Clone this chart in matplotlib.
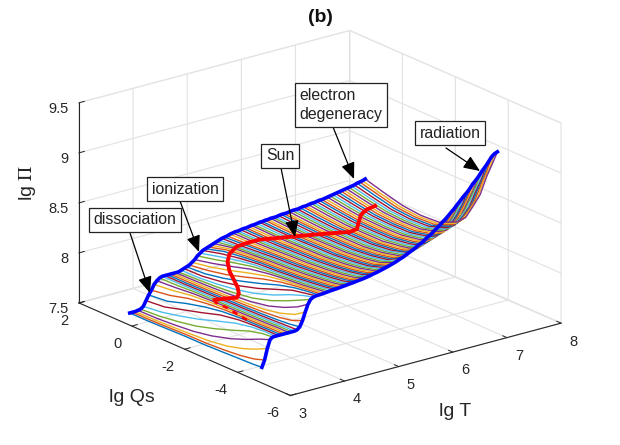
import matplotlib
matplotlib.use('Agg')
import numpy as np
import matplotlib.pyplot as plt

plt.rcParams['font.family'] = ['Liberation Sans', 'DejaVu Sans']
plt.rcParams['mathtext.fontset'] = 'stix'
plt.rcParams['axes.unicode_minus'] = False

# lg Qs positions of the samples along every constant-T line
qs_knots = [1.0, 0.3, -0.4, -1.1, -1.8, -2.5, -3.1, -3.6, -4.0]

lgT = [3.45, 3.50, 3.55, 3.60, 3.65, 3.70, 3.75, 3.80, 3.85, 3.90, 3.95, 4.00, 4.05, 4.10, 4.15, 4.20,
       4.25, 4.30, 4.35, 4.40, 4.45, 4.50, 4.55, 4.60, 4.65, 4.70, 4.75, 4.80, 4.85, 4.90, 4.95, 5.00,
       5.05, 5.10, 5.15, 5.20, 5.25, 5.30, 5.35, 5.40, 5.45, 5.50, 5.55, 5.60, 5.65, 5.70, 5.75, 5.80,
       5.85, 5.90, 5.95, 6.00, 6.05, 6.10, 6.15, 6.20, 6.25, 6.30, 6.35, 6.40, 6.45, 6.50, 6.55, 6.60,
       6.65, 6.70, 6.75, 6.80, 6.85, 6.90, 6.95, 7.00, 7.05, 7.10, 7.15, 7.20, 7.25, 7.30, 7.35, 7.40,
       7.45, 7.50, 7.55, 7.60, 7.65, 7.70, 7.75, 7.80]

# lg Pi, one row per lgT, one column per qs_knots entry
lgPi = [
    [7.45, 7.45, 7.455, 7.46, 7.46, 7.466, 7.473, 7.477, 7.485],
    [7.45, 7.45, 7.456, 7.462, 7.464, 7.475, 7.491, 7.515, 7.551],
    [7.45, 7.452, 7.459, 7.468, 7.48, 7.508, 7.553, 7.606, 7.659],
    [7.455, 7.458, 7.47, 7.488, 7.523, 7.576, 7.638, 7.699, 7.74],
    [7.46, 7.472, 7.498, 7.533, 7.588, 7.653, 7.715, 7.748, 7.759],
    [7.48, 7.503, 7.545, 7.594, 7.657, 7.716, 7.748, 7.76, 7.76],
    [7.53, 7.548, 7.601, 7.653, 7.711, 7.743, 7.755, 7.76, 7.76],
    [7.58, 7.598, 7.657, 7.704, 7.736, 7.75, 7.755, 7.76, 7.76],
    [7.62, 7.649, 7.699, 7.729, 7.744, 7.75, 7.755, 7.76, 7.76],
    [7.67, 7.691, 7.722, 7.737, 7.745, 7.75, 7.755, 7.76, 7.76],
    [7.70, 7.713, 7.731, 7.74, 7.745, 7.75, 7.755, 7.76, 7.76],
    [7.72, 7.724, 7.735, 7.74, 7.745, 7.75, 7.755, 7.76, 7.76],
    [7.73, 7.73, 7.735, 7.74, 7.745, 7.75, 7.755, 7.76, 7.76],
    [7.73, 7.73, 7.735, 7.74, 7.745, 7.75, 7.756, 7.762, 7.766],
    [7.73, 7.73, 7.735, 7.74, 7.745, 7.752, 7.76, 7.771, 7.789],
    [7.73, 7.73, 7.735, 7.741, 7.748, 7.758, 7.773, 7.799, 7.844],
    [7.73, 7.731, 7.737, 7.744, 7.754, 7.771, 7.805, 7.852, 7.921],
    [7.73, 7.733, 7.74, 7.751, 7.768, 7.802, 7.857, 7.92, 7.992],
    [7.73, 7.736, 7.747, 7.765, 7.793, 7.848, 7.916, 7.98, 8.034],
    [7.74, 7.743, 7.76, 7.788, 7.832, 7.897, 7.97, 8.02, 8.05],
    [7.75, 7.754, 7.781, 7.82, 7.875, 7.946, 8.007, 8.034, 8.055],
    [7.76, 7.771, 7.807, 7.858, 7.916, 7.982, 8.023, 8.044, 8.056],
    [7.77, 7.797, 7.836, 7.893, 7.954, 8.002, 8.029, 8.045, 8.058],
    [7.79, 7.824, 7.872, 7.928, 7.978, 8.011, 8.03, 8.046, 8.06],
    [7.81, 7.852, 7.903, 7.958, 7.992, 8.015, 8.03, 8.047, 8.063],
    [7.84, 7.882, 7.932, 7.975, 7.997, 8.015, 8.031, 8.047, 8.066],
    [7.86, 7.907, 7.951, 7.983, 8.0, 8.015, 8.031, 8.048, 8.068],
    [7.88, 7.928, 7.963, 7.988, 8.0, 8.015, 8.032, 8.049, 8.07],
    [7.89, 7.943, 7.97, 7.99, 8.0, 8.015, 8.032, 8.05, 8.072],
    [7.90, 7.951, 7.973, 7.99, 8.0, 8.015, 8.033, 8.051, 8.075],
    [7.91, 7.955, 7.975, 7.99, 8.0, 8.016, 8.033, 8.052, 8.078],
    [7.92, 7.96, 7.975, 7.99, 8.0, 8.016, 8.034, 8.053, 8.08],
    [7.93, 7.96, 7.975, 7.99, 8.0, 8.016, 8.035, 8.054, 8.084],
    [7.94, 7.96, 7.975, 7.99, 8.0, 8.016, 8.035, 8.055, 8.086],
    [7.95, 7.96, 7.975, 7.99, 8.0, 8.017, 8.036, 8.056, 8.089],
    [7.955, 7.967, 7.979, 7.992, 8.001, 8.018, 8.037, 8.059, 8.093],
    [7.96, 7.967, 7.979, 7.992, 8.001, 8.018, 8.037, 8.06, 8.096],
    [7.97, 7.974, 7.983, 7.995, 8.003, 8.019, 8.038, 8.061, 8.099],
    [7.975, 7.978, 7.985, 7.996, 8.004, 8.02, 8.039, 8.063, 8.103],
    [7.98, 7.981, 7.987, 7.997, 8.004, 8.02, 8.04, 8.066, 8.108],
    [7.98, 7.981, 7.987, 7.997, 8.004, 8.021, 8.041, 8.068, 8.113],
    [7.985, 7.985, 7.989, 7.998, 8.005, 8.022, 8.042, 8.07, 8.12],
    [7.99, 7.988, 7.991, 8.0, 8.006, 8.022, 8.042, 8.072, 8.125],
    [7.99, 7.988, 7.991, 8.0, 8.006, 8.022, 8.043, 8.074, 8.131],
    [7.995, 7.992, 7.993, 8.001, 8.006, 8.023, 8.044, 8.078, 8.138],
    [8.0, 7.995, 7.995, 8.002, 8.007, 8.023, 8.046, 8.082, 8.145],
    [8.0, 7.995, 7.995, 8.002, 8.007, 8.024, 8.047, 8.084, 8.153],
    [8.005, 7.999, 7.997, 8.003, 8.008, 8.025, 8.048, 8.088, 8.16],
    [8.01, 8.002, 7.999, 8.004, 8.008, 8.026, 8.049, 8.092, 8.169],
    [8.01, 8.002, 7.999, 8.004, 8.008, 8.026, 8.05, 8.096, 8.177],
    [8.015, 8.006, 8.001, 8.006, 8.009, 8.027, 8.051, 8.099, 8.187],
    [8.015, 8.006, 8.001, 8.006, 8.01, 8.028, 8.053, 8.106, 8.199],
    [8.02, 8.009, 8.003, 8.007, 8.01, 8.028, 8.056, 8.11, 8.208],
    [8.02, 8.009, 8.003, 8.007, 8.01, 8.029, 8.058, 8.115, 8.22],
    [8.02, 8.009, 8.003, 8.007, 8.01, 8.029, 8.06, 8.124, 8.234],
    [8.025, 8.013, 8.005, 8.008, 8.011, 8.031, 8.062, 8.13, 8.248],
    [8.03, 8.016, 8.007, 8.009, 8.011, 8.031, 8.064, 8.136, 8.259],
    [8.03, 8.016, 8.007, 8.009, 8.012, 8.032, 8.067, 8.144, 8.274],
    [8.03, 8.016, 8.007, 8.009, 8.012, 8.033, 8.07, 8.151, 8.292],
    [8.035, 8.02, 8.009, 8.01, 8.012, 8.034, 8.073, 8.16, 8.304],
    [8.04, 8.023, 8.011, 8.012, 8.013, 8.036, 8.076, 8.169, 8.32],
    [8.04, 8.023, 8.011, 8.012, 8.013, 8.037, 8.08, 8.179, 8.342],
    [8.04, 8.023, 8.011, 8.012, 8.014, 8.038, 8.084, 8.19, 8.355],
    [8.045, 8.027, 8.013, 8.013, 8.014, 8.04, 8.088, 8.2, 8.375],
    [8.05, 8.03, 8.015, 8.014, 8.015, 8.041, 8.093, 8.212, 8.397],
    [8.05, 8.03, 8.015, 8.014, 8.015, 8.042, 8.099, 8.225, 8.415],
    [8.055, 8.034, 8.017, 8.015, 8.016, 8.045, 8.103, 8.239, 8.438],
    [8.06, 8.037, 8.019, 8.016, 8.02, 8.046, 8.11, 8.258, 8.461],
    [8.06, 8.037, 8.019, 8.016, 8.02, 8.048, 8.115, 8.271, 8.482],
    [8.065, 8.04, 8.021, 8.018, 8.021, 8.05, 8.123, 8.286, 8.506],
    [8.07, 8.044, 8.023, 8.019, 8.022, 8.053, 8.131, 8.3, 8.532],
    [8.07, 8.044, 8.023, 8.019, 8.023, 8.055, 8.141, 8.321, 8.556],
    [8.075, 8.048, 8.025, 8.02, 8.024, 8.058, 8.146, 8.336, 8.586],
    [8.08, 8.051, 8.027, 8.021, 8.026, 8.061, 8.157, 8.357, 8.612],
    [8.085, 8.055, 8.029, 8.022, 8.027, 8.065, 8.167, 8.377, 8.642],
    [8.09, 8.058, 8.031, 8.024, 8.028, 8.069, 8.177, 8.397, 8.667],
    [8.095, 8.062, 8.033, 8.025, 8.03, 8.072, 8.187, 8.417, 8.692],
    [8.1, 8.065, 8.035, 8.026, 8.031, 8.076, 8.203, 8.448, 8.723],
    [8.105, 8.069, 8.037, 8.027, 8.033, 8.08, 8.214, 8.468, 8.758],
    [8.11, 8.072, 8.039, 8.028, 8.034, 8.085, 8.228, 8.488, 8.783],
    [8.115, 8.076, 8.041, 8.03, 8.036, 8.09, 8.243, 8.518, 8.813],
    [8.12, 8.079, 8.043, 8.031, 8.038, 8.095, 8.259, 8.544, 8.849],
    [8.125, 8.083, 8.045, 8.032, 8.04, 8.1, 8.279, 8.569, 8.879],
    [8.13, 8.086, 8.047, 8.033, 8.042, 8.107, 8.289, 8.599, 8.909],
    [8.14, 8.093, 8.051, 8.036, 8.044, 8.114, 8.31, 8.63, 8.945],
    [8.145, 8.097, 8.053, 8.037, 8.047, 8.122, 8.33, 8.66, 8.98],
    [8.15, 8.1, 8.055, 8.038, 8.05, 8.129, 8.35, 8.69, 9.0],
    [8.16, 8.107, 8.059, 8.04, 8.052, 8.136, 8.37, 8.72, 9.01],
]

# extra samples on the radiation fan, for the last 25 lines (lgT from 6.6 up)
fan_start = 6.6
fan_knots = [-2.8, -3.35, -3.8]
fan_P = [
    [8.054, 8.135, 8.278], [8.057, 8.143, 8.295], [8.06, 8.15, 8.31], [8.062, 8.159, 8.327],
    [8.065, 8.17, 8.347], [8.069, 8.178, 8.364], [8.072, 8.19, 8.383], [8.076, 8.201, 8.405],
    [8.082, 8.214, 8.428], [8.086, 8.226, 8.448], [8.092, 8.239, 8.47], [8.098, 8.254, 8.496],
    [8.104, 8.27, 8.522], [8.11, 8.283, 8.542], [8.118, 8.301, 8.571], [8.125, 8.32, 8.599],
    [8.131, 8.333, 8.621], [8.14, 8.353, 8.651], [8.151, 8.376, 8.682], [8.16, 8.396, 8.71],
    [8.169, 8.414, 8.738], [8.182, 8.44, 8.771], [8.194, 8.463, 8.805], [8.203, 8.481, 8.827],
    [8.215, 8.508, 8.861],
]

# solar track, photosphere part first
sun_near_T = [3.78, 3.85, 3.90]
sun_near_q = [-2.75, -1.85, -1.29]
sun_near_P = [7.767, 7.776, 7.76]

sun_T = [3.90, 4.00, 4.15, 4.25, 4.35, 4.40, 4.45, 4.50, 4.60, 4.75, 4.95, 5.20, 5.80, 6.30, 6.80, 6.90, 6.95, 7.00, 7.10, 7.20]
sun_q = [-1.29, -1.47, -1.62, -1.49, -1.24, -0.99, -0.73, -0.55, -0.42, -0.38, -0.39, -0.33, -0.35, -0.54, -0.47, -0.53, -0.50, -0.48, -0.46, -0.60]
sun_P = [7.78, 7.80, 7.805, 7.816, 7.833, 7.877, 7.919, 7.99, 8.04, 8.085, 8.097, 8.084, 8.03, 8.008, 7.946, 7.97, 8.03, 8.09, 8.12, 8.164]

x_ticks = [3, 4, 5, 6, 7, 8]
y_ticks = [-6, -4, -2, 0, 2]
z_ticks = [7.5, 8, 8.5, 9, 9.5]
z_labels = ['7.5', '8', '8.5', '9', '9.5']

line_colors = ['#0072BD', '#D95319', '#EDB120', '#7E2F8E', '#77AC30', '#4DBEEE', '#A2142F']

fig = plt.figure(figsize=(6.2, 4.45), dpi=100)
ax = fig.add_subplot(projection='3d', proj_type='ortho', computed_zorder=False)
ax.set_position([4 / 620, 3.5 / 445, 1.0, 1.0])
ax.view_init(elev=20, azim=-128)
ax.set_box_aspect((1, 1, 0.62), zoom=1.157)
ax.set_xlim(3, 8, view_margin=0)
ax.set_ylim(-6, 2, view_margin=0)
ax.set_zlim(7.5, 9.5, view_margin=0)

P = np.array(lgPi)
n_before_fan = lgT.index(fan_start)
for i, t in enumerate(lgT):
    q = np.array(qs_knots)
    p = P[i]
    if i >= n_before_fan:
        q = np.append(q, fan_knots)
        p = np.append(p, fan_P[i - n_before_fan])
        order = np.argsort(-q)
        q, p = q[order], p[order]
    ax.plot([t] * len(q), q, p, color=line_colors[i % 7], lw=1.0, zorder=3)

# the two thick edges
ax.plot(lgT, [qs_knots[0]] * len(lgT), P[:, 0], color='#0000FF', lw=2.6, zorder=5)
ax.plot(lgT, [qs_knots[-1]] * len(lgT), P[:, -1], color='#0000FF', lw=2.6, zorder=5)

ax.plot(sun_near_T, sun_near_q, sun_near_P, color='#FF0000', lw=2.0, ls=(0, (2, 2)), zorder=4)
ax.plot(sun_T, sun_q, sun_P, color='#FF0000', lw=2.8, zorder=6)

ax.set_xticks(x_ticks)
ax.set_yticks(y_ticks)
ax.set_zticks(z_ticks)
ax.set_zticklabels(z_labels)
ax.tick_params(labelsize=10.5, colors='#262626')
ax.tick_params(axis='x', pad=-1.5)
ax.tick_params(axis='y', pad=-1.5)
ax.tick_params(axis='z', pad=-4.5)
for lab in ax.get_xticklabels():
    lab.set_ha('left')
for lab in ax.get_yticklabels():
    lab.set_ha('right')
for lab in ax.get_zticklabels():
    lab.set_ha('right')

for axis in (ax.xaxis, ax.yaxis, ax.zaxis):
    axis.pane.set_facecolor((1, 1, 1, 0))
    axis.pane.set_edgecolor('#E2E2E2')
    axis.line.set_color('#262626')
    axis.line.set_linewidth(0.8)
    axis._axinfo['grid'].update(color='#E2E2E2', linewidth=0.8)
    axis._axinfo['tick'].update(inward_factor=0.0, outward_factor=0.25, linewidth={True: 0.7, False: 0.7})

ax.text2D(320 / 620, 1 - 18 / 445, '(b)', transform=fig.transFigure, ha='center', va='center',
          fontsize=14, fontweight='bold', color='#111111')
ax.text2D(132 / 620, 1 - 398 / 445, 'lg Qs', transform=fig.transFigure, ha='center', va='center',
          fontsize=14, color='#262626')
ax.text2D(455 / 620, 1 - 412 / 445, 'lg T', transform=fig.transFigure, ha='center', va='center',
          fontsize=14, color='#262626')
ax.text2D(28 / 620, 1 - 183 / 445, r'lg $\Pi$', transform=fig.transFigure, ha='center', va='center',
          fontsize=14, color='#262626', rotation=90)

# callouts are placed in figure pixels, y measured from the bottom
notes = [
    ('dissociation', (135, 220), (130, 233), (150, 293)),
    ('ionization', (185, 189), (180, 201), (199, 252)),
    ('Sun', (280, 156), (281, 168), (295, 237)),
    ('electron\ndegeneracy', (341, 105), (333, 127), (354, 179)),
    ('radiation', (450, 133), (446, 148), (480, 171)),
]
for label, box_xy, tail, tip in notes:
    ax.annotate('', xy=(tip[0], 445 - tip[1]), xytext=(tail[0], 445 - tail[1]),
                xycoords='figure pixels', textcoords='figure pixels', annotation_clip=False,
                arrowprops=dict(arrowstyle='-|>,head_length=1.0,head_width=0.42', color='black', lw=0.9,
                                shrinkA=0, shrinkB=0), zorder=8)
    ax.annotate(label, xy=(box_xy[0], 445 - box_xy[1]), xycoords='figure pixels', ha='center', va='center',
                fontsize=11.4, color='#222222', linespacing=1.3, multialignment='left', annotation_clip=False,
                bbox=dict(boxstyle='square,pad=0.3', fc='white', ec='#222222', lw=0.9), zorder=9)

fig.savefig('out.png', dpi=100)
